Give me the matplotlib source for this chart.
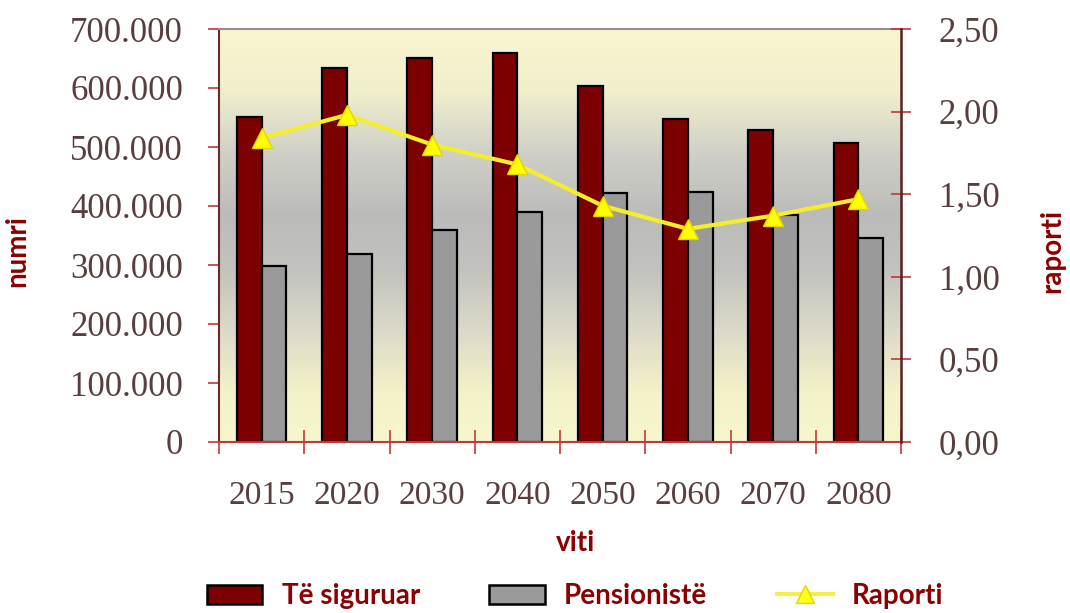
import numpy as np
import matplotlib
matplotlib.use("Agg")
import matplotlib.pyplot as plt
from matplotlib.patches import Patch
from matplotlib.lines import Line2D
from matplotlib.colors import LinearSegmentedColormap
from matplotlib.ticker import FixedLocator, FuncFormatter

# ---- data ----
years = ["2015", "2020", "2030", "2040", "2050", "2060", "2070", "2080"]
te_siguruar = [551000, 634000, 651000, 659000, 604000, 548000, 528000, 506000]
pensioniste = [298000, 319000, 360000, 389000, 422000, 424000, 384000, 345000]
raporti = [1.84, 1.98, 1.80, 1.68, 1.43, 1.29, 1.37, 1.47]
left_ticks = [0, 100000, 200000, 300000, 400000, 500000, 600000, 700000]
right_ticks = [0.0, 0.5, 1.0, 1.5, 2.0, 2.5]

RED = "#7d0000"
GRAY = "#9a9a9a"
LABEL_RED = "#8b0000"
TICK_TXT = "#5a3e3e"
TICK_RED = "#c03a3a"

fig = plt.figure(figsize=(10.7, 6.13), dpi=100)
ax = fig.add_axes([219 / 1070, 1 - 442 / 613, (901 - 219) / 1070, (442 - 29) / 613])

# background gradient
stops = [(0.0, "#f9f6d0"), (0.15, "#f1efcc"), (0.30, "#d0d0c8"), (0.45, "#bbbbba"),
         (0.58, "#c2c2be"), (0.75, "#dfddc9"), (0.88, "#f4f2c8"), (1.0, "#f8f6cc")]
cmap = LinearSegmentedColormap.from_list("bg", stops)
grad = np.linspace(0, 1, 256).reshape(-1, 1)
ax.imshow(grad, cmap=cmap, aspect="auto", extent=[0, 1, 0, 1], origin="upper",
          transform=ax.transAxes, zorder=0)

x = np.arange(len(years))
w = 0.29
ax.bar(x - w / 2, te_siguruar, width=w, color=RED, edgecolor="black", linewidth=1.6, zorder=2)
ax.bar(x + w / 2, pensioniste, width=w, color=GRAY, edgecolor="black", linewidth=1.6, zorder=2)

ax.set_xlim(-0.5, len(years) - 0.5)
ax.set_ylim(0, 700000)
ax.set_yticks(left_ticks)
ax.yaxis.set_major_formatter(FuncFormatter(lambda v, p: "0" if v == 0 else f"{int(v):,}".replace(",", ".")))
ax.set_xticks(x)
ax.set_xticklabels(years)
ax.xaxis.set_minor_locator(FixedLocator(np.arange(-0.5, len(years), 1.0)))

serif = ["Liberation Serif", "DejaVu Serif"]
for lab in ax.get_yticklabels():
    lab.set_family(serif)
    lab.set_fontsize(25)
    lab.set_color(TICK_TXT)
for lab in ax.get_xticklabels():
    lab.set_family(serif)
    lab.set_fontsize(24)
    lab.set_color(TICK_TXT)

ax.tick_params(axis="y", which="major", direction="out", length=8, width=1.2, color=TICK_RED, pad=18)
ax.tick_params(axis="x", which="major", length=0, pad=28)
ax.tick_params(axis="x", which="minor", direction="inout", length=17, width=1.2, color=TICK_RED)

ax.spines["left"].set_color("#6b2a2a")
ax.spines["left"].set_linewidth(1.5)
ax.spines["bottom"].set_color(TICK_RED)
ax.spines["bottom"].set_linewidth(1.5)
ax.spines["top"].set_color("#9a8a8a")
ax.spines["top"].set_linewidth(1.5)
ax.spines["right"].set_visible(False)

ax2 = ax.twinx()
ax2.plot(x, raporti, color="#f4ef2a", linewidth=3, marker="^", markersize=15,
         markerfacecolor="#ffff00", markeredgecolor="#e6d400", markeredgewidth=1, zorder=3)
ax2.set_ylim(0, 2.5)
ax2.set_yticks(right_ticks)
ax2.set_yticklabels([f"{v:.2f}".replace(".", ",") for v in right_ticks])
for lab in ax2.get_yticklabels():
    lab.set_family(serif)
    lab.set_fontsize(25)
    lab.set_color(TICK_TXT)
ax2.tick_params(axis="y", direction="inout", length=14, width=1.2, color=TICK_RED, pad=20)
ax2.spines["right"].set_color("#5a2020")
ax2.spines["right"].set_linewidth(1.8)
for s in ["left", "top", "bottom"]:
    ax2.spines[s].set_visible(False)

lab_font = dict(family=["Lato", "DejaVu Sans"], fontweight="bold", fontsize=20, color=LABEL_RED)
fig.text(17 / 1070, 1 - 251 / 613, "numri", rotation=90, ha="center", va="center", **lab_font)
fig.text(1052 / 1070, 1 - 251 / 613, "raporti", rotation=90, ha="center", va="center", **lab_font)
fig.text(575 / 1070, 1 - 543 / 613, "viti", ha="center", va="center", **lab_font)

handles = [
    Patch(facecolor=RED, edgecolor="black", linewidth=1.8),
    Patch(facecolor=GRAY, edgecolor="black", linewidth=1.8),
    Line2D([0], [0], color="#f4f04a", linewidth=3, marker="^", markersize=13,
           markerfacecolor="#ffff1a", markeredgecolor="#e6d400"),
]
leg = fig.legend(handles, ["Të siguruar", "Pensionistë", "Raporti"], loc="center",
                 bbox_to_anchor=(575 / 1070, 1 - 596 / 613), ncol=3, frameon=False,
                 prop=dict(family=["Lato", "DejaVu Sans"], weight="bold", size=20),
                 handlelength=2.0, handleheight=0.7, handletextpad=0.7, columnspacing=2.5)
for t in leg.get_texts():
    t.set_color(LABEL_RED)

fig.savefig("out.png", dpi=100)
